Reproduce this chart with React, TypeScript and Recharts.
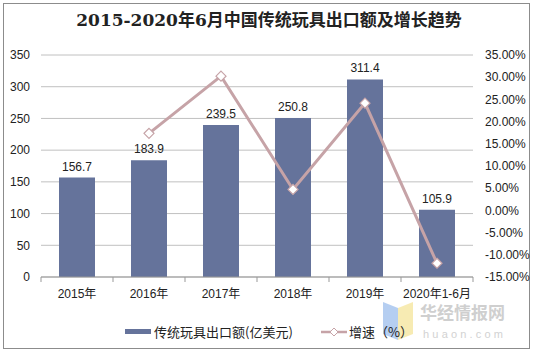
import React from "react";
import {
  ComposedChart,
  Bar,
  Line,
  XAxis,
  YAxis,
  CartesianGrid,
  Legend,
  LabelList,
} from "recharts";

const categories = ["2015年", "2016年", "2017年", "2018年", "2019年", "2020年1-6月"];
const exportValues = [156.7, 183.9, 239.5, 250.8, 311.4, 105.9];
const growthValues: (number | null)[] = [null, 17.35, 30.24, 4.72, 24.16, -11.9];
const leftTicks = [0, 50, 100, 150, 200, 250, 300, 350];
const rightTicks = [-15, -10, -5, 0, 5, 10, 15, 20, 25, 30, 35];

const data = categories.map((c, i) => ({
  name: c,
  value: exportValues[i],
  growth: growthValues[i],
}));

const BAR_COLOR = "#65739b";
const LINE_COLOR = "#c6a3a7";
const FONT = "'Liberation Sans', Arial, 'Noto Sans CJK SC', sans-serif";

const Diamond = (props: any) => {
  const { cx, cy, value } = props;
  if (value === null || value === undefined || cx == null || cy == null) return null;
  const r = 5;
  return (
    <path
      d={`M${cx},${cy - r} L${cx + r},${cy} L${cx},${cy + r} L${cx - r},${cy} Z`}
      fill="#ffffff"
      stroke={LINE_COLOR}
      strokeWidth={1.2}
    />
  );
};

const XTick = (props: any) => {
  const { x, y, payload, index, visibleTicksCount } = props;
  const off = payload.offset || 0;
  const axisY = y - 12;
  return (
    <g>
      <line x1={x - off} y1={axisY} x2={x - off} y2={axisY + 5} stroke="#999" />
      {index === (visibleTicksCount ?? categories.length) - 1 && (
        <line x1={x + off} y1={axisY} x2={x + off} y2={axisY + 5} stroke="#999" />
      )}
      <text x={x} y={y} dy="0.71em" textAnchor="middle" fontSize={12} fill="#222" fontFamily={FONT}>
        {payload.value}
      </text>
    </g>
  );
};

const LegendContent = () => (
  <div
    style={{
      display: "flex",
      alignItems: "center",
      justifyContent: "center",
      fontFamily: "'Noto Sans CJK SC', sans-serif",
      fontSize: 13,
      color: "#222",
    }}
  >
    <span style={{ display: "inline-block", width: 26, height: 5, background: BAR_COLOR, marginRight: 3 }} />
    <span>传统玩具出口额(亿美元)</span>
    <svg width={26} height={12} style={{ marginLeft: 28, marginRight: 2 }}>
      <line x1={0} y1={6} x2={26} y2={6} stroke={LINE_COLOR} strokeWidth={2.5} />
      <path d="M13,2 L17,6 L13,10 L9,6 Z" fill="#fff" stroke={LINE_COLOR} strokeWidth={1} />
    </svg>
    <span>增速（%）</span>
  </div>
);

export default function App() {
  return (
    <div style={{ position: "absolute", left: 0, top: 0, width: 538, height: 356, background: "#fff" }}>
      <div
        style={{
          position: "absolute",
          left: 3,
          top: 3,
          width: 527,
          height: 346,
          border: "1px solid #8c8c8c",
          boxSizing: "border-box",
        }}
      />
      <div
        style={{
          position: "absolute",
          left: 0,
          top: 9,
          width: 538,
          textAlign: "center",
          fontFamily: "'DejaVu Serif', 'Liberation Serif', 'Noto Sans CJK SC', serif",
          fontWeight: "bold",
          fontSize: 17,
          color: "#222",
          lineHeight: "22px",
        }}
      >
        2015-2020年6月中国传统玩具出口额及增长趋势
      </div>
      {/* watermark */}
      <svg style={{ position: "absolute", left: 380, top: 302 }} width={150} height={44}>
        <polygon points="3,0 18,6 18,38 3,32" fill="#a8c6ef" opacity={0.85} />
        <polygon points="18,6 33,0 33,32 18,38" fill="#f6e7a6" opacity={0.85} />
        <text x={40} y={17} fontSize={17} fontWeight="bold" fill="#cfcfcf" fontFamily="'Noto Sans CJK SC', sans-serif">
          华经情报网
        </text>
        <text x={43} y={36} fontSize={11} fill="#d2d2d2" letterSpacing={3.2} fontFamily={FONT}>
          huaon.com
        </text>
      </svg>
      <div style={{ position: "absolute", left: 0, top: 0 }}>
        <ComposedChart
          width={538}
          height={356}
          data={data}
          margin={{ top: 55, right: 0, bottom: 49, left: 0 }}
          barCategoryGap={18}
        >
          <CartesianGrid vertical={false} stroke="#c0c0c0" yAxisId="left" />
          <XAxis
            dataKey="name"
            height={30}
            tickLine={false}
            axisLine={{ stroke: "#999" }}
            tickSize={6}
            tickMargin={6}
            interval={0}
            tick={<XTick />}
          />
          <YAxis
            yAxisId="left"
            width={41}
            domain={[0, 350]}
            ticks={leftTicks}
            axisLine={false}
            tickLine={false}
            tickMargin={5}
            tick={{ fontSize: 12, fill: "#222", fontFamily: FONT }}
          />
          <YAxis
            yAxisId="right"
            orientation="right"
            width={65}
            domain={[-15, 35]}
            ticks={rightTicks}
            axisLine={false}
            tickLine={false}
            tickMargin={6}
            tickFormatter={(v: number) => `${v.toFixed(2)}%`}
            tick={{ fontSize: 12, fill: "#222", fontFamily: FONT }}
          />
          <Bar yAxisId="left" dataKey="value" fill={BAR_COLOR} isAnimationActive={false}>
            <LabelList
              dataKey="value"
              position="top"
              offset={7}
              style={{ fontSize: 12, fill: "#222", fontFamily: FONT }}
              formatter={(v: any) => Number(v).toFixed(1)}
            />
          </Bar>
          <Line
            yAxisId="right"
            dataKey="growth"
            stroke={LINE_COLOR}
            strokeWidth={3}
            dot={<Diamond />}
            activeDot={false}
            connectNulls={false}
            isAnimationActive={false}
          />
          <Legend
            verticalAlign="middle"
            align="center"
            layout="horizontal"
            wrapperStyle={{ top: 322, left: 0, width: 538 }}
            content={<LegendContent />}
          />
        </ComposedChart>
      </div>
    </div>
  );
}
